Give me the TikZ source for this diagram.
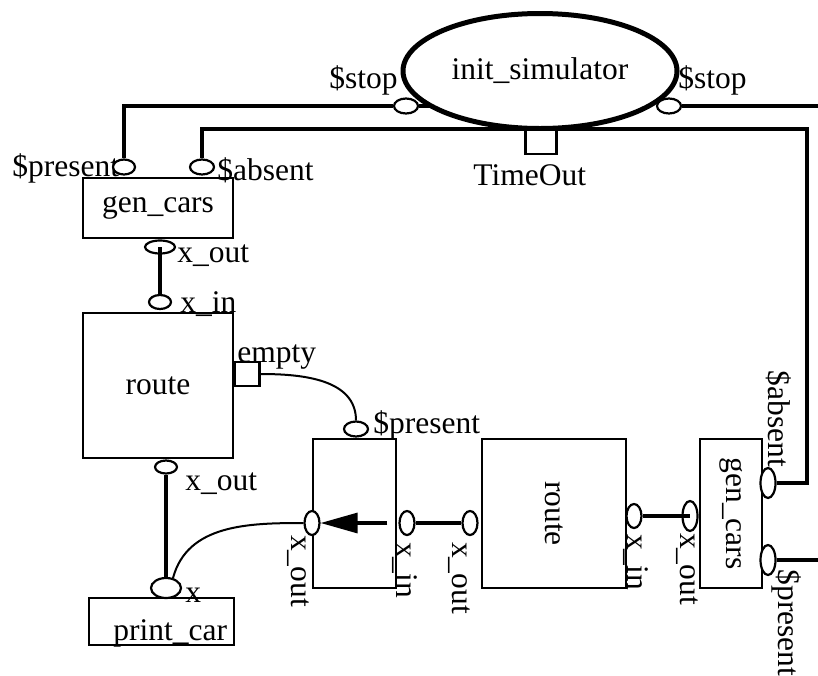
\documentclass[tikz,border=0pt]{standalone}
\usepackage{fontspec}
\setmainfont{Liberation Serif}
\usetikzlibrary{shapes.geometric, arrows.meta}
\newcommand{\diafont}{\fontsize{15.75}{18}\selectfont}
\tikzset{
  blk/.style={rectangle, draw, line width=1.25pt, inner sep=0pt, font=\diafont},
  proc/.style={ellipse, draw, line width=2.5pt, inner sep=0pt,
               minimum width=137pt, minimum height=57.5pt, font=\diafont},
  porth/.style={ellipse, draw, fill=white, line width=1.1pt, inner sep=0pt,
                minimum width=12pt, minimum height=7.5pt},
  portv/.style={ellipse, draw, fill=white, line width=1.1pt, inner sep=0pt,
                minimum width=7.5pt, minimum height=13.5pt},
  sig/.style={rectangle, draw, fill=white, line width=1.1pt, inner sep=0pt},
  wire/.style={line width=1.6pt},
  link/.style={line width=1pt},
  arr/.style={line width=1.6pt, -{Triangle[length=18.5pt, width=10pt]}},
  lbl/.style={font=\diafont, inner sep=0pt, anchor=base west},
  vlbl/.style={font=\diafont, inner sep=0pt, rotate=-90},
}

\begin{document}
\begin{tikzpicture}[x=0.5pt, y=-0.5pt]
  \useasboundingbox[fill=white] (0,0) rectangle (818,675);

  % ── Labels ───────────────────────────────────────────────────────────────
  \node[lbl] (lpresL)  at (12,176)  {\$present};
  \node[lbl] (labsL)   at (217,180) {\$absent};
  \node[lbl] (lstopL)  at (329,88)  {\$stop};
  \node[lbl] (lstopR)  at (678,88)  {\$stop};
  \node[lbl] (ltime)   at (473,185) {TimeOut};
  \node[lbl] (lgxout)  at (177,262) {x\_out};
  \node[lbl] (lrxin)   at (180,312) {x\_in};
  \node[lbl] (lempty)  at (237,362) {empty};
  \node[lbl] (lrxout)  at (185,490) {x\_out};
  \node[lbl] (lspres)  at (373,433) {\$present};
  \node[lbl] (lpx)     at (185,602) {x};

  \node[vlbl] (lsxout)  at (298,571) {x\_out};
  \node[vlbl] (lsxin)   at (405,570) {x\_in};
  \node[vlbl] (lrxout2) at (459,578) {x\_out};
  \node[vlbl] (lr2xin)  at (636,562) {x\_in};
  \node[vlbl] (lg2xout) at (687,569) {x\_out};
  \node[vlbl] (labsR)   at (779,419) {\$absent};
  \node[vlbl] (lpresR)  at (787,623) {\$present};

  % ── Blocks ───────────────────────────────────────────────────────────────
  \node[proc] (sim) at (540,71) {init\_simulator};
  \node[sig, minimum width=15.5pt, minimum height=13pt] (timeout) at (541,141) {};

  \node[blk, minimum width=75pt, minimum height=30pt]   (gen)    at (158,208)   {gen\_cars};
  \node[blk, minimum width=75pt, minimum height=72.5pt] (route)  at (158,385.5) {route};
  \node[blk, minimum width=72.5pt, minimum height=23.5pt,
        text height=19pt, text depth=0pt,
        text width=65.5pt, align=right]                 (print)  at (161.5,621.5) {print\_car};
  \node[sig, minimum width=12.5pt, minimum height=12pt] (empty)  at (247,374) {};

  \node[blk, minimum width=41.5pt, minimum height=74.5pt] (merge) at (354.5,513.5) {};
  \node[blk, rotate=-90, minimum width=74.5pt, minimum height=72pt] (route2) at (554,513.5) {route};
  \node[blk, rotate=-90, minimum width=74.5pt, minimum height=31pt] (gen2)   at (731,513.5) {gen\_cars};

  % ── Ports ────────────────────────────────────────────────────────────────
  \node[porth] (stopL)  at (406,106) {};
  \node[porth] (stopR)  at (669,106) {};
  \node[porth, minimum width=11pt] (gpres) at (124,167) {};
  \node[porth] (gabs)   at (202,167) {};
  \node[porth, minimum width=15pt, minimum height=6.5pt] (gxout) at (160,247) {};
  \node[porth, minimum width=11pt, minimum height=7pt]   (rxin)  at (160,302) {};
  \node[porth, minimum width=11pt, minimum height=6.5pt] (rxout) at (166,467) {};
  \node[porth, minimum width=15pt, minimum height=10pt]  (px)    at (166,588) {};
  \node[porth] (spres)  at (356,429) {};

  \node[portv, minimum height=12pt] (sxout)  at (312,523) {};
  \node[portv, minimum height=12pt] (sxin)   at (407,523) {};
  \node[portv, minimum height=12pt] (rxout2) at (470,523) {};
  \node[portv, minimum height=12pt] (r2xin)  at (634,516) {};
  \node[portv, minimum height=15pt] (g2xout) at (690,516) {};
  \node[portv, minimum height=15pt] (gabs2)  at (768,483) {};
  \node[portv, minimum height=15pt] (gpres2) at (768,560) {};

  \coordinate (tr)     at (807,129);
  \coordinate (edgeR1) at (818,106);
  \coordinate (edgeR2) at (818,560);

  % ── Edges ────────────────────────────────────────────────────────────────
  \draw[wire] (stopL.west) -| (gpres.north);
  \draw[wire] (stopL.east) -- (stopL.east -| sim.199);
  \draw[wire] (stopR.east) -- (edgeR1);
  \draw[wire] (gabs.north) |- (tr) |- (gabs2.east);
  \draw[wire] (gpres2.east) -- (edgeR2);

  \draw[wire] (gxout.center) -- (rxin.north);
  \draw[wire] (rxout.south) -- (px.north);

  \draw[link] (empty.east) to[out=0, in=90] (spres.north);
  \draw[link] (sxout.west) to[out=180, in=75] (px.55);

  \draw[arr]  ([xshift=-5.5pt]sxin.west) -- (sxout.east);
  \draw[wire] (sxin.east) -- (rxout2.west);
  \draw[wire] (r2xin.east) -- (g2xout.center);

\end{tikzpicture}
\end{document}
